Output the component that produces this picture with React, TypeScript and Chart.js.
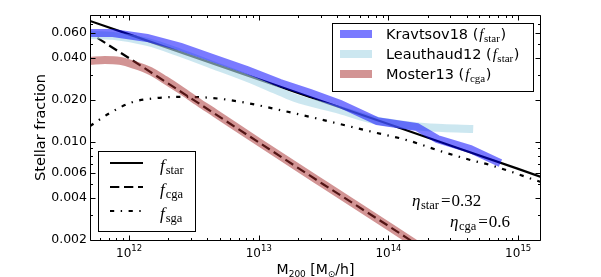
import React, { useEffect, useRef } from "react";
import { Chart, registerables } from "chart.js";

Chart.register(...registerables);

// ---------- axes ----------
const X_RANGE = [5e11, 1.5e15];
const Y_RANGE = [0.002, 0.0806];
const X_TICKS = [1e12, 1e13, 1e14, 1e15];
const X_TICK_EXPONENTS = ["12", "13", "14", "15"];
const Y_TICKS = [0.002, 0.004, 0.006, 0.01, 0.02, 0.04, 0.06];
const Y_TICK_LABELS = ["0.002", "0.004", "0.006", "0.010", "0.020", "0.040", "0.060"];

// ---------- model curves ----------
const FSTAR_MASS = [5e11, 1e12, 3.16e12, 1e13, 3.16e13, 1e14, 3.16e14, 1e15, 1.5e15];
const FSTAR = [0.0731, 0.0586, 0.0405, 0.028, 0.0194, 0.01345, 0.0093, 0.00643, 0.00564];

const FCGA_MASS = [5.7e11, 1e12, 3.16e12, 1e13, 3.16e13, 1e14, 3e14];
const FCGA = [0.0553, 0.0397, 0.0199, 0.00995, 0.00498, 0.00252, 0.0013];

const FSGA_MASS = [5e11, 7.1e11, 1.07e12, 1.64e12, 2.47e12, 4.45e12, 8.1e12, 1.46e13, 2.5e13, 4.2e13, 7.6e13, 1.4e14, 2.5e14, 4.3e14, 6.1e14, 1.5e15];
const FSGA = [0.013, 0.0161, 0.0193, 0.0206, 0.021, 0.0206, 0.019, 0.0169, 0.0151, 0.01345, 0.01178, 0.0103, 0.00863, 0.00744, 0.00685, 0.00518];

// ---------- literature data ----------
const KRAV_MASS = [5e11, 7.5e11, 1.38e12, 2.5e12, 4.4e12, 8.1e12, 1.46e13, 2.5e13, 4.25e13, 8.2e13, 1.66e14, 2.38e14, 4.27e14, 7.3e14];
const KRAV = [0.06, 0.06, 0.0553, 0.0477, 0.0398, 0.0327, 0.0264, 0.0224, 0.0187, 0.0141, 0.0128, 0.0105, 0.00891, 0.00708];

const LEAU_MASS = [5e11, 7.5e11, 1.38e12, 2.5e12, 4.4e12, 8.1e12, 1.46e13, 1.9e13, 4.25e13, 7.6e13, 1.04e14, 1.88e14, 4.5e14];
const LEAU = [0.0581, 0.0572, 0.0518, 0.0432, 0.0355, 0.0287, 0.0228, 0.0206, 0.0169, 0.0144, 0.0137, 0.0128, 0.0124];

const MOST_MASS = [5e11, 6.5e11, 8.5e11, 1.1e12, 1.45e12, 1.9e12, 2.5e12, 3.5e12, 4.6e12, 1e13, 3.16e13, 1e14, 2e14];
const MOST = [0.0379, 0.0385, 0.0379, 0.0355, 0.0322, 0.0277, 0.0235, 0.019, 0.0161, 0.01, 0.005, 0.00251, 0.00165];

// ---------- labels ----------
const DATA_LEGEND = [
  { name: "Kravtsov18", sub: "star", color: "rgba(0,0,255,0.52)" },
  { name: "Leauthaud12", sub: "star", color: "rgba(173,216,230,0.62)" },
  { name: "Moster13", sub: "cga", color: "rgba(165,42,42,0.5)" },
];
const MODEL_LEGEND = [
  { sub: "star", dash: [] as number[] },
  { sub: "cga", dash: [9.3, 4.7] },
  { sub: "sga", dash: [4.2, 6.5, 1.4, 6.5] },
];
const ETA_LABELS = [
  { sub: "star", value: "0.32" },
  { sub: "cga", value: "0.6" },
];
const X_TITLE = ["M", "200", " [M", "⊙", "/h]"];
const Y_TITLE = "Stellar fraction";

const SANS = "'DejaVu Sans', sans-serif";
const SERIF = "'Liberation Serif', serif";

type Seg = { t: string; font: string; dy?: number; dx?: number };
function drawSegs(ctx: CanvasRenderingContext2D, segs: Seg[], x: number, y: number, center = false) {
  let w = 0;
  for (const s of segs) {
    ctx.font = s.font;
    w += ctx.measureText(s.t).width + (s.dx || 0);
  }
  let cx = center ? x - w / 2 : x;
  for (const s of segs) {
    ctx.font = s.font;
    cx += s.dx || 0;
    ctx.fillText(s.t, cx, y + (s.dy || 0));
    cx += ctx.measureText(s.t).width;
  }
}

const pts = (m: number[], v: number[]) => m.map((x, i) => ({ x, y: v[i] }));

const decorPlugin = {
  id: "decor",
  afterDatasetsDraw(chart: any) {
    const { ctx, chartArea: a } = chart;
    const xs = chart.scales.x;
    const ys = chart.scales.y;
    const L = Math.round(a.left) + 0.5;
    const R = Math.round(a.right) - 0.5;
    const T = Math.round(a.top) + 0.5;
    const B = Math.round(a.bottom) + 0.5;
    ctx.save();
    ctx.strokeStyle = "#000";
    ctx.fillStyle = "#000";
    ctx.lineWidth = 1;
    ctx.setLineDash([]);
    ctx.beginPath();
    ctx.moveTo(L, T);
    ctx.lineTo(R, T);
    ctx.lineTo(R, B);
    ctx.lineTo(L, B);
    ctx.closePath();
    ctx.stroke();

    // tick marks (inward, mirrored)
    const near = (a1: number, b1: number) => Math.abs(a1 - b1) / b1 < 1e-6;
    const xMinor: number[] = [];
    for (let d = 11; d <= 15; d++) for (let k = 2; k <= 9; k++) {
      const v = k * Math.pow(10, d);
      if (v > X_RANGE[0] && v < X_RANGE[1]) xMinor.push(v);
    }
    const yMinor: number[] = [];
    for (let d = -3; d <= -2; d++) for (let k = 1; k <= 9; k++) {
      const v = k * Math.pow(10, d);
      if (v > Y_RANGE[0] && v < Y_RANGE[1] && !Y_TICKS.some((t) => near(v, t))) yMinor.push(v);
    }
    ctx.beginPath();
    const xt = (v: number, len: number) => {
      const p = Math.round(xs.getPixelForValue(v)) + 0.5;
      ctx.moveTo(p, B); ctx.lineTo(p, B - len);
      ctx.moveTo(p, T); ctx.lineTo(p, T + len);
    };
    const yt = (v: number, len: number) => {
      const p = Math.round(ys.getPixelForValue(v)) + 0.5;
      ctx.moveTo(L, p); ctx.lineTo(L + len, p);
      ctx.moveTo(R, p); ctx.lineTo(R - len, p);
    };
    X_TICKS.forEach((v) => xt(v, 5));
    xMinor.forEach((v) => xt(v, 2.5));
    Y_TICKS.forEach((v) => yt(v, 5));
    yMinor.forEach((v) => yt(v, 2.5));
    ctx.stroke();

    ctx.textAlign = "left";
    ctx.textBaseline = "alphabetic";
    // x tick labels 10^n
    X_TICKS.forEach((v, i) => {
      const p = xs.getPixelForValue(v);
      drawSegs(ctx, [
        { t: "10", font: `12px ${SANS}` },
        { t: X_TICK_EXPONENTS[i], font: `8.5px ${SANS}`, dy: -6 },
      ], p, a.bottom + 17, true);
    });

    // x title
    drawSegs(ctx, [
      { t: X_TITLE[0], font: `14px ${SANS}` },
      { t: X_TITLE[1], font: `9px ${SANS}`, dy: 3 },
      { t: X_TITLE[2], font: `14px ${SANS}` },
      { t: X_TITLE[3], font: `9px ${SANS}`, dy: 3 },
      { t: X_TITLE[4], font: `14px ${SANS}` },
    ], (a.left + a.right) / 2, 274, true);

    // y title
    ctx.save();
    ctx.translate(44.5, (a.top + a.bottom) / 2);
    ctx.rotate(-Math.PI / 2);
    ctx.textAlign = "center";
    ctx.font = `14.5px ${SANS}`;
    ctx.fillText(Y_TITLE, 0, 0);
    ctx.restore();

    // data legend (top right)
    ctx.fillStyle = "#fff";
    ctx.fillRect(332.5, 23.5, 201, 68);
    ctx.strokeStyle = "#000";
    ctx.strokeRect(332.5, 23.5, 201, 68);
    DATA_LEGEND.forEach((e, i) => {
      const y = 34 + i * 20;
      ctx.strokeStyle = e.color;
      ctx.lineWidth = 8;
      ctx.lineCap = "butt";
      ctx.beginPath();
      ctx.moveTo(340, y);
      ctx.lineTo(372, y);
      ctx.stroke();
      ctx.fillStyle = "#000";
      drawSegs(ctx, [
        { t: e.name + " (", font: `14.5px ${SANS}` },
        { t: "f", font: `italic 15px ${SERIF}`, dx: 1 },
        { t: e.sub, font: `11px ${SERIF}`, dy: 3, dx: 0.5 },
        { t: ")", font: `14.5px ${SANS}`, dx: 0.5 },
      ], 386, y + 5);
    });

    // model legend (bottom left)
    ctx.fillStyle = "#fff";
    ctx.fillRect(98.5, 151.5, 97, 80);
    ctx.strokeStyle = "#000";
    ctx.lineWidth = 1;
    ctx.setLineDash([]);
    ctx.strokeRect(98.5, 151.5, 97, 80);
    MODEL_LEGEND.forEach((e, i) => {
      const y = 163 + i * 24;
      ctx.strokeStyle = "#000";
      ctx.lineWidth = 2.2;
      ctx.setLineDash(e.dash);
      ctx.beginPath();
      ctx.moveTo(110, y);
      ctx.lineTo(143, y);
      ctx.stroke();
      ctx.setLineDash([]);
      ctx.fillStyle = "#000";
      drawSegs(ctx, [
        { t: "f", font: `italic 17px ${SERIF}` },
        { t: e.sub, font: `12.5px ${SERIF}`, dy: 3, dx: 1 },
      ], 160, y + 8);
    });

    // eta annotations
    ctx.fillStyle = "#000";
    ETA_LABELS.forEach((e, i) => {
      const x = i === 0 ? 412 : 450;
      const y = i === 0 ? 206 : 227;
      drawSegs(ctx, [
        { t: "η", font: `italic 17px ${SERIF}` },
        { t: e.sub, font: `12.5px ${SERIF}`, dy: 3, dx: 0.5 },
        { t: "=", font: `17px ${SERIF}`, dx: 2 },
        { t: e.value, font: `17px ${SERIF}`, dx: 1 },
      ], x, y);
    });
    ctx.restore();
  },
};

export default function App() {
  const ref = useRef<HTMLCanvasElement>(null);
  useEffect(() => {
    if (!ref.current) return;
    const base = { pointRadius: 0, pointHoverRadius: 0, fill: false, borderCapStyle: "butt" as const };
    const chart = new Chart(ref.current, {
      type: "line",
      data: {
        datasets: [
          { ...base, label: "f_star", data: pts(FSTAR_MASS, FSTAR), borderColor: "#000", borderWidth: 2.2, order: 10 },
          { ...base, label: "f_cga", data: pts(FCGA_MASS, FCGA), borderColor: "#000", borderWidth: 2.2, borderDash: MODEL_LEGEND[1].dash, order: 10 },
          { ...base, label: "f_sga", data: pts(FSGA_MASS, FSGA), borderColor: "#000", borderWidth: 2.2, borderDash: MODEL_LEGEND[2].dash, cubicInterpolationMode: "monotone" as const, order: 10 },
          { ...base, label: "Moster13", data: pts(MOST_MASS, MOST), borderColor: DATA_LEGEND[2].color, borderWidth: 8, cubicInterpolationMode: "monotone" as const, order: 3 },
          { ...base, label: "Leauthaud12", data: pts(LEAU_MASS, LEAU), borderColor: DATA_LEGEND[1].color, borderWidth: 8, cubicInterpolationMode: "monotone" as const, order: 2 },
          { ...base, label: "Kravtsov18", data: pts(KRAV_MASS, KRAV), borderColor: DATA_LEGEND[0].color, borderWidth: 8, tension: 0, order: 1 },
        ],
      },
      options: {
        animation: false,
        responsive: false,
        maintainAspectRatio: false,
        events: [],
        layout: { padding: { left: 0, right: 60, top: 15, bottom: 0 } },
        plugins: { legend: { display: false }, tooltip: { enabled: false } },
        scales: {
          x: {
            type: "logarithmic",
            min: X_RANGE[0],
            max: X_RANGE[1],
            grid: { display: false, drawTicks: false },
            border: { display: false },
            ticks: { display: false },
            afterBuildTicks: (s: any) => { s.ticks = X_TICKS.map((v) => ({ value: v })); },
            afterFit: (s: any) => { s.height = 37; },
          },
          y: {
            type: "logarithmic",
            min: Y_RANGE[0],
            max: Y_RANGE[1],
            grid: { display: false, drawTicks: false },
            border: { display: false },
            ticks: {
              color: "#000",
              padding: 3,
              autoSkip: false,
              font: { family: "'DejaVu Sans'", size: 12.5 },
              callback: (_v: any, i: number) => Y_TICK_LABELS[i],
            },
            afterBuildTicks: (s: any) => { s.ticks = Y_TICKS.map((v) => ({ value: v })); },
            afterFit: (s: any) => { s.width = 90; },
          },
        },
      } as any,
      plugins: [decorPlugin],
    });
    return () => chart.destroy();
  }, []);
  return (
    <div style={{ position: "absolute", left: 0, top: 0, width: 601, height: 277, background: "#fff" }}>
      <canvas ref={ref} width={601} height={277} style={{ display: "block", width: 601, height: 277 }} />
    </div>
  );
}
